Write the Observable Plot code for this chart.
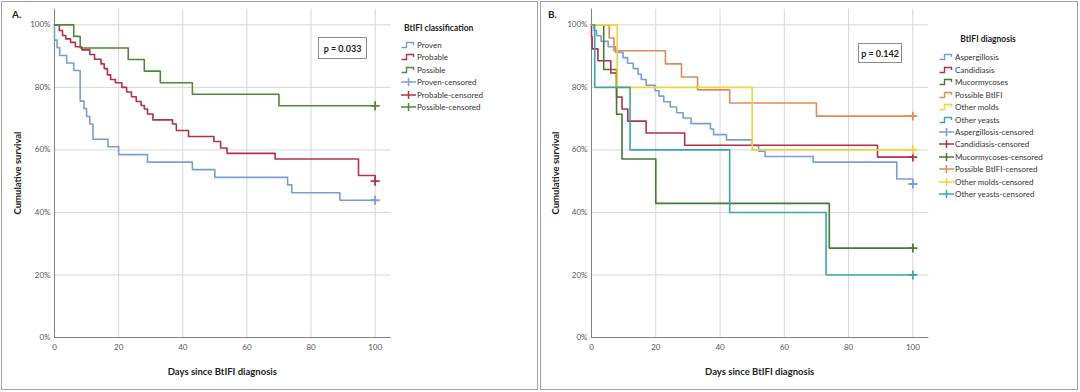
<!DOCTYPE html>
<html><head><meta charset="utf-8">
<script src="https://cdn.jsdelivr.net/npm/d3@7"></script>
<script src="https://cdn.jsdelivr.net/npm/@observablehq/plot@0.6"></script>
<style>
body{margin:0;background:#fff;font-family:Lato,"Open Sans",sans-serif;}
#wrap{position:relative;width:1080px;height:392px;overflow:hidden;background:#fff;}
.panel{position:absolute;border:1px solid #a3a3a3;box-sizing:border-box;}
.abs{position:absolute;white-space:nowrap;}
.plotsvg{position:absolute;top:0;}
.bold{font-weight:700;color:#222;}
.pbox{position:absolute;border:1px solid #8c8c8c;box-sizing:border-box;font-weight:700;font-size:9px;color:#222;display:flex;align-items:center;justify-content:center;background:#fff;}
.leg{position:absolute;font-size:8px;color:#333;}
.row{display:flex;align-items:center;height:12.45px;}
.row svg{margin-right:1px;flex:none;}
</style></head><body><div id="wrap"></div>
<script>
// ---------- Shared ticks ----------
const xTicks = [0, 20, 40, 60, 80, 100];
const yTicks = [0, 0.2, 0.4, 0.6, 0.8, 1];

// ---------- Panel A: BtIFI classification ----------
const groupsA = ["Proven", "Probable", "Possible"];
const colorsA = ["#7a9dd3", "#b2304b", "#4e8a35"];
const provenDays = [0, 0, 0.8, 1.6, 3.8, 6, 8, 9.2, 10, 11, 12, 16.7, 20, 29, 43, 50, 72.7, 74, 89, 100];
const provenSurv = [1, 0.951, 0.927, 0.902, 0.878, 0.854, 0.756, 0.732, 0.707, 0.683, 0.634, 0.61, 0.585, 0.561, 0.537, 0.512, 0.488, 0.463, 0.439, 0.439];
const probableDays = [0, 1.5, 2.5, 3.5, 5, 6.5, 8.5, 11, 12.5, 14.5, 15.5, 16.5, 17.5, 19, 21, 22.5, 24, 25.5, 27, 28, 29, 30.7, 36.8, 38, 41.8, 49.7, 51.8, 53.8, 68.8, 94.8, 100];
const probableSurv = [1, 0.982, 0.966, 0.955, 0.944, 0.93, 0.92, 0.905, 0.89, 0.875, 0.86, 0.84, 0.825, 0.815, 0.8, 0.785, 0.77, 0.755, 0.742, 0.731, 0.715, 0.696, 0.683, 0.662, 0.643, 0.627, 0.606, 0.589, 0.571, 0.518, 0.5];
const possibleDays = [0, 6, 8, 23, 28, 33, 43, 70, 100];
const possibleSurv = [1, 0.963, 0.926, 0.889, 0.852, 0.815, 0.778, 0.741, 0.741];
const pValueA = "p = 0.033";

// ---------- Panel B: BtIFI diagnosis ----------
const groupsB = ["Aspergillosis", "Candidiasis", "Mucormycoses", "Possible BtIFI", "Other molds", "Other yeasts"];
const colorsB = ["#7a9dd3", "#b2304b", "#467a34", "#de8a5b", "#f3d23e", "#3aa6a9"];
const aspDays = [0, 0.8, 1.6, 3, 5.2, 7.5, 9.8, 11.2, 13, 14.5, 15.5, 17, 19.8, 21, 22.5, 24.5, 26.5, 28.5, 31, 37, 38, 42, 50, 52, 54, 69, 95, 100];
const aspSurv = [1, 0.982, 0.965, 0.947, 0.93, 0.912, 0.895, 0.877, 0.86, 0.842, 0.825, 0.807, 0.789, 0.772, 0.754, 0.737, 0.719, 0.702, 0.684, 0.667, 0.649, 0.632, 0.614, 0.596, 0.579, 0.561, 0.507, 0.491];
const canDays = [0, 0, 0.2, 2, 6, 7.8, 9.5, 11.3, 17, 29, 89, 100];
const canSurv = [1, 0.962, 0.923, 0.885, 0.846, 0.769, 0.731, 0.692, 0.654, 0.615, 0.577, 0.577];
const mucDays = [0, 3.8, 7.8, 9.5, 20, 74, 100];
const mucSurv = [1, 0.857, 0.714, 0.571, 0.429, 0.286, 0.286];
const posDays = [0, 5.5, 7, 23, 28, 33, 43, 70, 100];
const posSurv = [1, 0.958, 0.917, 0.875, 0.833, 0.792, 0.75, 0.708, 0.708];
const moldDays = [0, 8, 50, 100];
const moldSurv = [1, 0.8, 0.6, 0.6];
const yeastDays = [0, 1, 12, 43, 73, 100];
const yeastSurv = [1, 0.8, 0.6, 0.4, 0.2, 0.2];
const pValueB = "p = 0.142";

const xTitle = "Days since BtIFI diagnosis";
const yTitle = "Cumulative survival";

const wrap = document.getElementById("wrap");

function el(tag, cls, style, text) {
  const e = document.createElement(tag);
  if (cls) e.className = cls;
  Object.assign(e.style, style || {});
  if (text != null) e.textContent = text;
  wrap.appendChild(e);
  return e;
}

function drawPanel(cfg) {
  const rows = cfg.groups.flatMap((g, i) => cfg.days[i].map((d, j) => ({name: g, day: d, surv: cfg.surv[i][j]})));
  const ends = cfg.groups.map((g, i) => ({name: g, day: cfg.days[i][cfg.days[i].length - 1], surv: cfg.surv[i][cfg.surv[i].length - 1]}));
  const svg = Plot.plot({
    width: 540, height: 392,
    marginLeft: cfg.marginLeft, marginRight: cfg.marginRight, marginTop: 8.7, marginBottom: 55,
    style: {fontFamily: "Lato, 'Open Sans', sans-serif", fontSize: "8px", color: "#555", background: "transparent", overflow: "visible"},
    x: {domain: [0, 105]},
    y: {domain: [0, 1.05]},
    color: {domain: cfg.groups, range: cfg.colors},
    marks: [
      Plot.gridX(xTicks.slice(1), {stroke: "#d6d6d6", strokeOpacity: 1}),
      Plot.gridY(yTicks.slice(1), {stroke: "#d6d6d6", strokeOpacity: 1}),
      Plot.axisX(xTicks, {tickSize: 0, tickPadding: 7, label: null, fill: "#555"}),
      Plot.axisY(yTicks, {tickSize: 0, tickPadding: 4, label: null, fill: "#555", tickFormat: d => Math.round(d * 100) + "%"}),
      Plot.ruleX([0], {stroke: "#808080"}),
      Plot.ruleY([0], {stroke: "#808080"}),
      Plot.line(rows, {x: "day", y: "surv", z: "name", stroke: "name", curve: "step-after", strokeWidth: 1.6}),
      Plot.dot(ends, {x: "day", y: "surv", stroke: "name", symbol: "plus", r: 3, strokeWidth: 1.8})
    ]
  });
  svg.classList.add("plotsvg");
  svg.style.left = cfg.left + "px";
  wrap.appendChild(svg);

  // panel frame
  el("div", "panel", {left: cfg.frameLeft + "px", top: "1px", width: cfg.frameWidth + "px", height: "389px"});
  // panel label
  el("div", "abs bold", {left: cfg.labelX + "px", top: "8px", fontSize: "10px"}, cfg.label);
  // axis titles
  const xc = cfg.left + cfg.marginLeft + (540 - cfg.marginLeft - cfg.marginRight) / 2;
  el("div", "abs bold", {left: xc + "px", top: "371px", fontSize: "9.5px", transform: "translate(-50%,-50%)"}, xTitle);
  el("div", "abs bold", {left: cfg.yTitleX + "px", top: "173px", fontSize: "9.5px", transform: "translate(-50%,-50%) rotate(-90deg)"}, yTitle);
  // p-value box
  el("div", "pbox", {left: cfg.pbox[0] + "px", top: cfg.pbox[1] + "px", width: cfg.pbox[2] + "px", height: cfg.pbox[3] + "px"}, cfg.pValue);
  // legend
  el("div", "abs bold", {left: cfg.legTitle[0] + "px", top: cfg.legTitle[1] + "px", fontSize: "8.5px", transform: cfg.legTitleCenter ? "translate(-50%,-50%)" : "translate(0,-50%)"}, cfg.legendTitle);
  const leg = el("div", "leg", {left: cfg.legX + "px", top: cfg.legY + "px"});
  const items = [
    ...cfg.groups.map((g, i) => ({label: g, color: cfg.colors[i], kind: "step"})),
    ...cfg.groups.map((g, i) => ({label: g + "-censored", color: cfg.colors[i], kind: "cens"}))
  ];
  for (const it of items) {
    const row = document.createElement("div");
    row.className = "row";
    const ns = "http://www.w3.org/2000/svg";
    const s = document.createElementNS(ns, "svg");
    s.setAttribute("width", "15"); s.setAttribute("height", "10");
    const p = document.createElementNS(ns, "path");
    if (it.kind === "step") {
      p.setAttribute("d", "M0.5,7.5 H5.5 V2.5 H12.5 V5");
      p.setAttribute("stroke-width", "1.4");
    } else {
      p.setAttribute("d", "M0,5 H15 M7.5,1 V9");
      p.setAttribute("stroke-width", "1.5");
    }
    p.setAttribute("fill", "none");
    p.setAttribute("stroke", it.color);
    s.appendChild(p);
    row.appendChild(s);
    const sp = document.createElement("span");
    sp.textContent = it.label;
    row.appendChild(sp);
    leg.appendChild(row);
  }
}

drawPanel({
  left: 0, marginLeft: 54, marginRight: 149.3,
  groups: groupsA, colors: colorsA,
  days: [provenDays, probableDays, possibleDays],
  surv: [provenSurv, probableSurv, possibleSurv],
  frameLeft: 1, frameWidth: 537, label: "A.", labelX: 12, yTitleX: 17,
  pbox: [318, 37, 49, 22], pValue: pValueA,
  legendTitle: "BtIFI classification", legTitle: [404, 28], legTitleCenter: false,
  legX: 401, legY: 38.8
});

drawPanel({
  left: 540, marginLeft: 51, marginRight: 151.6,
  groups: groupsB, colors: colorsB,
  days: [aspDays, canDays, mucDays, posDays, moldDays, yeastDays],
  surv: [aspSurv, canSurv, mucSurv, posSurv, moldSurv, yeastSurv],
  frameLeft: 540, frameWidth: 538, label: "B.", labelX: 548, yTitleX: 555,
  pbox: [858, 43, 44, 20], pValue: pValueB,
  legendTitle: "BtIFI diagnosis", legTitle: [988, 39], legTitleCenter: true,
  legX: 939, legY: 51.1
});
</script></body></html>
